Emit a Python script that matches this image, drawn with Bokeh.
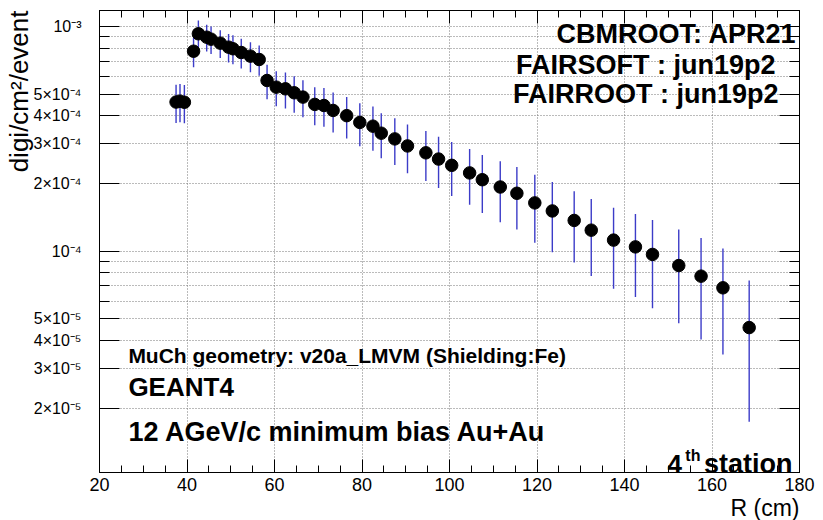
import math
from bokeh.plotting import figure
from bokeh.models import (Range1d, LinearAxis, LogAxis, FixedTicker, SingleIntervalTicker,
                          CustomJSTickFormatter, Label, Title, ColumnDataSource)
from bokeh.embed import file_html
from bokeh.resources import INLINE

# ---- data ----
r_cm = [37.5, 38.4, 39.4, 41.5, 42.6, 44.5, 45.5, 47.6, 49.5, 50.5, 52.4, 54.5, 56.5,
        58.3, 60.4, 62.5, 64.5, 66.5, 69.2, 71.3, 73.4, 76.5, 79.5, 82.5, 84.4, 87.5,
        90.4, 94.6, 97.5, 100.5, 104.6, 107.5, 111.6, 115.4, 119.5, 123.5, 128.5,
        132.4, 137.5, 142.5, 146.4, 152.4, 157.5, 162.5, 168.5]
digi = [4.61e-4, 4.65e-4, 4.60e-4, 7.76e-4, 9.28e-4, 8.96e-4, 8.78e-4, 8.43e-4, 8.09e-4,
        7.96e-4, 7.66e-4, 7.38e-4, 7.13e-4, 5.75e-4, 5.37e-4, 5.28e-4, 5.07e-4, 4.85e-4,
        4.50e-4, 4.45e-4, 4.23e-4, 4.01e-4, 3.74e-4, 3.60e-4, 3.35e-4, 3.16e-4, 2.94e-4,
        2.74e-4, 2.57e-4, 2.41e-4, 2.23e-4, 2.08e-4, 1.93e-4, 1.81e-4, 1.64e-4, 1.51e-4,
        1.37e-4, 1.24e-4, 1.12e-4, 1.045e-4, 9.67e-5, 8.63e-5, 7.74e-5, 6.87e-5, 4.57e-5]
digi_err = [0.89e-4, 0.90e-4, 0.89e-4, 1.17e-4, 1.35e-4, 1.23e-4, 1.23e-4, 1.19e-4, 1.17e-4,
            1.17e-4, 1.16e-4, 1.13e-4, 1.10e-4, 1.00e-4, 0.95e-4, 0.96e-4, 0.94e-4, 0.91e-4,
            0.87e-4, 0.87e-4, 0.86e-4, 0.84e-4, 0.81e-4, 0.80e-4, 0.76e-4, 0.74e-4, 0.72e-4,
            0.69e-4, 0.66e-4, 0.65e-4, 0.62e-4, 0.60e-4, 0.585e-4, 0.56e-4, 0.55e-4, 0.52e-4,
            0.48e-4, 0.465e-4, 0.44e-4, 0.42e-4, 0.41e-4, 0.385e-4, 0.37e-4, 0.34e-4, 0.283e-4]

y_major_ticks = [1e-3, 5e-4, 4e-4, 3e-4, 2e-4, 1e-4, 5e-5, 4e-5, 3e-5, 2e-5]
y_tick_labels = ["10\u207b\u00b3", "5\u00d710\u207b\u2074", "4\u00d710\u207b\u2074",
                 "3\u00d710\u207b\u2074", "2\u00d710\u207b\u2074", "10\u207b\u2074",
                 "5\u00d710\u207b\u2075", "4\u00d710\u207b\u2075", "3\u00d710\u207b\u2075",
                 "2\u00d710\u207b\u2075"]
y_minor_ticks = [9e-4, 8e-4, 7e-4, 6e-4, 9e-5, 8e-5, 7e-5, 6e-5]

x_title = "R (cm)"
y_title = "digi/cm\u00b2/event"

src = ColumnDataSource(dict(
    r=r_cm, v=digi,
    lo=[v - e for v, e in zip(digi, digi_err)],
    hi=[v + e for v, e in zip(digi, digi_err)],
))

FONT = "Liberation Sans"

p = figure(width=823, height=520, y_axis_type="log",
           x_range=Range1d(20, 180), y_range=Range1d(1.035e-5, 1.178e-3),
           output_backend="svg", toolbar_location=None,
           min_border_left=99, min_border_right=24, min_border_top=10, min_border_bottom=48)
p.background_fill_color = "white"
p.border_fill_color = "white"
p.outline_line_color = "black"
p.outline_line_width = 1

xt = SingleIntervalTicker(interval=20, num_minor_ticks=4)
yt = FixedTicker(ticks=y_major_ticks, minor_ticks=y_minor_ticks)

xa = p.xaxis[0]
xa.ticker = xt
ya = p.yaxis[0]
ya.ticker = yt
ya.formatter = CustomJSTickFormatter(args=dict(vals=y_major_ticks, labs=y_tick_labels), code="""
let best = 0, bd = Infinity;
for (let i = 0; i < vals.length; i++) {
  const d = Math.abs(Math.log10(tick) - Math.log10(vals[i]));
  if (d < bd) { bd = d; best = i; }
}
return labs[best];
""")

for ax in (xa, ya):
    ax.major_tick_out = 0
    ax.minor_tick_out = 0
    ax.axis_line_color = "black"
    ax.major_tick_line_color = "black"
    ax.minor_tick_line_color = "black"
    ax.major_label_text_font = FONT
    ax.major_label_text_color = "black"
xa.major_tick_in = 13
xa.minor_tick_in = 7
xa.major_label_standoff = 5
xa.major_label_text_font_size = "18px"
ya.major_tick_in = 20
ya.minor_tick_in = 10
ya.major_label_standoff = 18
ya.major_label_text_font_size = "16px"

top = LinearAxis(ticker=xt, major_tick_in=13, minor_tick_in=7, major_tick_out=0, minor_tick_out=0,
                 major_label_text_font_size="0px", major_label_text_alpha=0, major_label_standoff=0)
right = LogAxis(ticker=yt, major_tick_in=20, minor_tick_in=10, major_tick_out=0, minor_tick_out=0,
                major_label_text_font_size="0px", major_label_text_alpha=0, major_label_standoff=0)
p.add_layout(top, "above")
p.add_layout(right, "right")

p.add_layout(Title(text=x_title, align="right", text_font=FONT, text_font_size="23px",
                   text_font_style="normal", text_color="black", standoff=-2), "below")
p.add_layout(Title(text=y_title, align="right", text_font=FONT, text_font_size="26px",
                   text_font_style="normal", text_color="black", standoff=-7), "left")

p.xgrid.grid_line_color = "#777777"
p.xgrid.grid_line_dash = "1 2"
p.xgrid.ticker = xt
p.ygrid.grid_line_color = "#777777"
p.ygrid.grid_line_dash = "1 2"
p.ygrid.minor_grid_line_color = "#777777"
p.ygrid.minor_grid_line_dash = "1 2"
p.ygrid.ticker = yt

p.segment(x0="r", y0="lo", x1="r", y1="hi", source=src, line_color="#3c3cc8", line_width=1.4)
p.scatter(x="r", y="v", source=src, size=12.5, fill_color="black", line_color="black")

def lab(x, y, text, size, align="left"):
    p.add_layout(Label(x=x, y=y, text=text, text_font=FONT, text_font_size=size,
                       text_font_style="bold", text_align=align,
                       text_baseline="alphabetic", text_color="black"))

lab(179.3, 9.215e-4, "CBMROOT: APR21", "27px", align="right")
lab(174.5, 6.73e-4, "FAIRSOFT : jun19p2", "27px", align="right")
lab(175.2, 4.993e-4, "FAIRROOT : jun19p2", "27px", align="right")
lab(26.6, 3.435e-5, "MuCh geometry: v20a_LMVM (Shielding:Fe)", "21px")
lab(26.6, 2.475e-5, "GEANT4", "26px")
lab(26.6, 1.56e-5, "12 AGeV/c minimum bias Au+Au", "27px")
lab(149.8, 1.13e-5, "4", "26px")
lab(153.9, 1.232e-5, "th", "16px")
lab(178.4, 1.13e-5, "station", "27px", align="right")

open("out.html", "w").write(file_html(p, INLINE))
